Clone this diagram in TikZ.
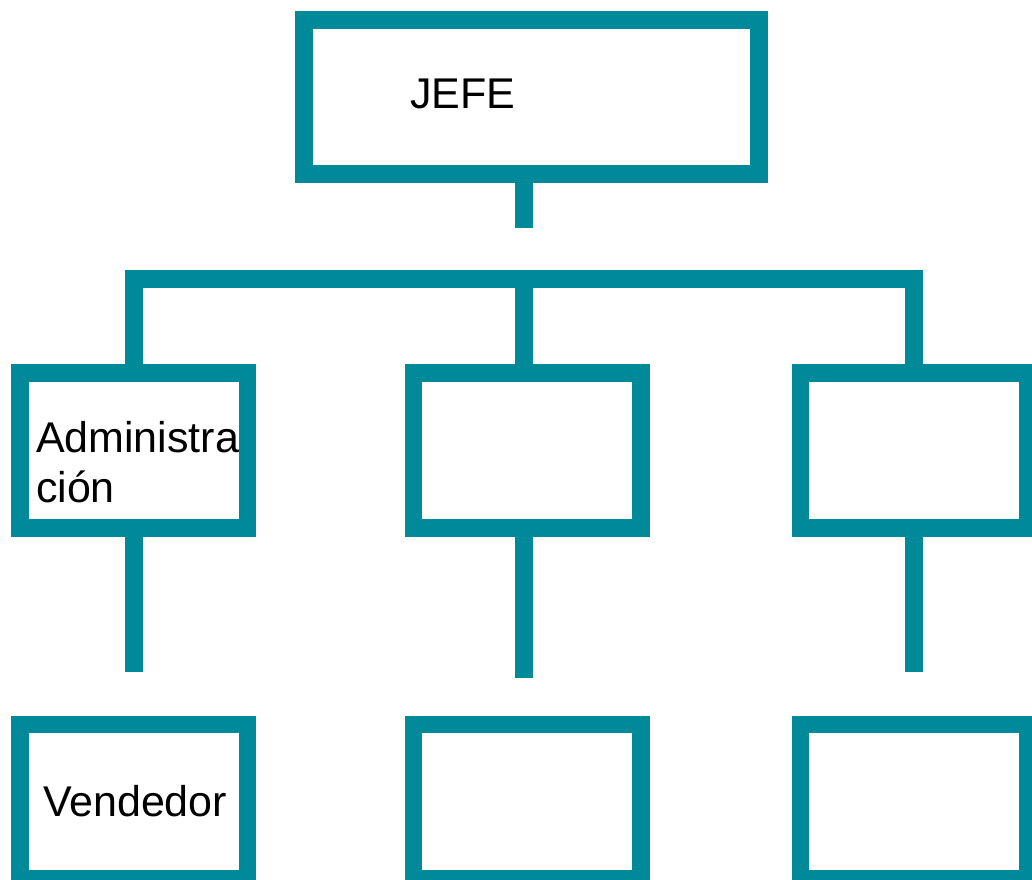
\documentclass[tikz,border=0pt]{standalone}
\usepackage{fontspec}
\setmainfont{Liberation Sans}
\usepackage{tikz}
\definecolor{orgTeal}{RGB}{0,138,153}

\begin{document}
\begin{tikzpicture}[x=1pt, y=-1pt, line width=17.5pt, line join=miter]
        \tikzset{
           chief/.style={
                        rectangle,
                        draw=orgTeal,
                        fill=none,
                        minimum width=455pt,
                        minimum height=154pt
                       },
           dept/.style={
                        rectangle,
                        draw=orgTeal,
                        fill=none,
                        minimum width=227.5pt,
                        minimum height=155pt
                       },
           staff/.style={
                        rectangle,
                        draw=orgTeal,
                        fill=none,
                        minimum width=227.5pt,
                        minimum height=154pt
                       },
           link/.style={
                        draw=orgTeal
                       },
           caption/.style={
                        inner sep=0pt,
                        outer sep=0pt,
                        text=black,
                        font=\fontsize{43}{50}\selectfont,
                        align=left
                       },
                 };
    \useasboundingbox (0,0) rectangle (1032,879);
    %--------------------
        \node[chief]   (jefe)     at (531.5,97)    {};

        \node[dept]    (deptA)    at (133.75,450.5) {};
        \node[dept]    (deptB)    at (527,450.5)   {};
        \node[dept]    (deptC)    at (914,450.5)   {};

        \node[staff]   (staffA)   at (133.75,801.5) {};
        \node[staff]   (staffB)   at (527,801.5)   {};
        \node[staff]   (staffC)   at (914,801.5)   {};

        \node[caption, anchor=base west] (jefeText)   at (410,108) {JEFE};
        \node[caption, anchor=base west] (deptAText)  at (36,502)  {Administra\\ción};
        \node[caption, anchor=base west] (staffAText) at (43,816)  {Vendedor};
    %--------------------
        \coordinate (jefeEnd) at (524,228);
        \coordinate (barL)    at (134,279);
        \coordinate (barM)    at (524,279);
        \coordinate (barR)    at (914,279);
        \coordinate (endA)    at (134,672);
        \coordinate (endB)    at (524,678);
        \coordinate (endC)    at (914,672);
    %--------------------
        \path[link] (jefe.south -| jefeEnd) -- (jefeEnd);
        \path[link] (deptA.north -| barL) -- (barL) -- (barR) -- (deptC.north);
        \path[link] (barM) -- (deptB.north -| barM);

        \path[link] (deptA.south -| endA) -- (endA);
        \path[link] (deptB.south -| endB) -- (endB);
        \path[link] (deptC.south -| endC) -- (endC);
    \end{tikzpicture}
\end{document}
